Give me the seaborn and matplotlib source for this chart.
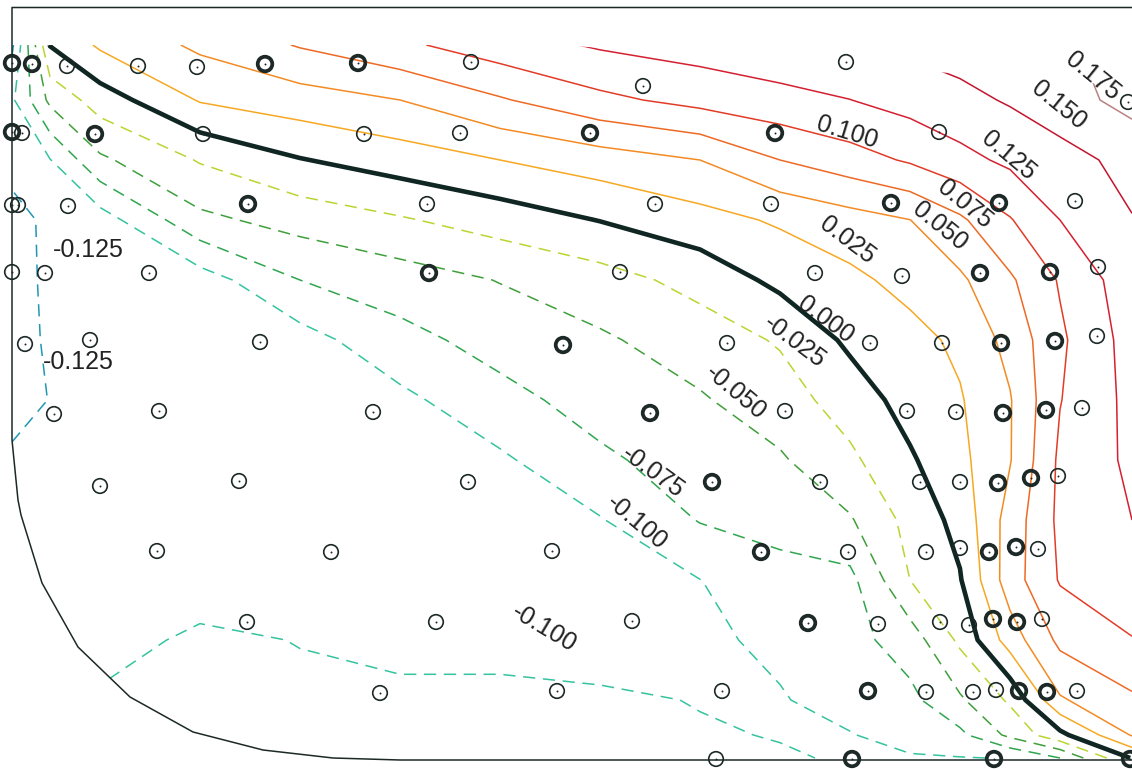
import numpy as np
import pandas as pd
import matplotlib.pyplot as plt
import seaborn as sns
from matplotlib.patches import Polygon

# contour levels of the field
levels = [-0.125, -0.100, -0.075, -0.050, -0.025, 0.000,
          0.025, 0.050, 0.075, 0.100, 0.125, 0.150, 0.175]

# field values on a coarse grid (x to the right, y downwards)
grid_x = [12, 50, 100, 200, 300, 400, 500, 600, 700, 780, 850, 910, 960, 1010, 1060, 1132]
grid_y = [45, 100, 160, 220, 280, 340, 400, 460, 520, 580, 640, 700, 735, 758]

z_y045 = [-0.130, 0.001, 0.029, 0.055, 0.077, 0.095, 0.114, 0.128, 0.136, 0.143, 0.148, 0.155, 0.161, 0.167, 0.173, 0.181]
z_y100 = [-0.104, -0.044, -0.013, 0.027, 0.0385, 0.050, 0.0725, 0.094, 0.108, 0.117, 0.1247, 0.1347, 0.143, 0.1525, 0.165, 0.183]
z_y160 = [-0.120, -0.101, -0.0545, -0.023, -0.0013, 0.0121, 0.025, 0.0375, 0.050, 0.075, 0.0896, 0.103, 0.1176, 0.130, 0.1406, 0.158]
z_y220 = [-0.130, -0.122, -0.112, -0.056, -0.0404, -0.0276, -0.0136, 0.0008, 0.0159, 0.0283, 0.0398, 0.0497, 0.0707, 0.0983, 0.125, 0.149]
z_y280 = [-0.128, -0.1235, -0.119, -0.112, -0.075, -0.062, -0.049, -0.0354, -0.0165, 0.0065, 0.0194, 0.0328, 0.0458, 0.0713, 0.1023, 0.140]
z_y340 = [-0.130, -0.1233, -0.1197, -0.115, -0.110, -0.083, -0.0656, -0.0535, -0.0378, -0.0225, 0.005, 0.017, 0.0299, 0.0578, 0.0958, 0.135]
z_y400 = [-0.132, -0.1245, -0.122, -0.117, -0.111, -0.106, -0.0828, -0.0651, -0.0525, -0.0364, -0.0134, 0.0097, 0.0229, 0.0483, 0.0991, 0.132]
z_y460 = [-0.122, -0.120, -0.1184, -0.1142, -0.1101, -0.107, -0.104, -0.0793, -0.0635, -0.053, -0.0301, -0.0032, 0.0185, 0.0486, 0.1048, 0.130]
z_y520 = [-0.118, -0.117, -0.115, -0.112, -0.109, -0.107, -0.105, -0.1015, -0.0736, -0.0623, -0.0524, -0.0171, 0.0081, 0.0604, 0.1056, 0.125]
z_y580 = [-0.115, -0.114, -0.113, -0.108, -0.109, -0.107, -0.105, -0.103, -0.1003, -0.088, -0.082, -0.025, -0.0019, 0.0635, 0.102, 0.115]
z_y640 = [-0.104, -0.104, -0.106, -0.097, -0.1005, -0.104, -0.104, -0.106, -0.104, -0.0957, -0.0836, -0.0631, -0.020, 0.0368, 0.081, 0.099]
z_y700 = [-0.098, -0.098, -0.098, -0.098, -0.097, -0.097, -0.097, -0.098, -0.1005, -0.1015, -0.0919, -0.0816, -0.0536, -0.021, 0.0472, 0.071]
z_y735 = [-0.097, -0.097, -0.097, -0.097, -0.097, -0.097, -0.097, -0.098, -0.099, -0.1005, -0.101, -0.092, -0.0807, -0.044, -0.007, 0.052]
z_y758 = [-0.096, -0.096, -0.096, -0.096, -0.096, -0.096, -0.096, -0.097, -0.098, -0.099, -0.101, -0.102, -0.101, -0.099, -0.075, 0.002]

# mesh nodes, row by row; bold = node drawn several times
node_x = [12, 32, 67, 138, 197, 265, 358, 471, 643, 846, 1128,
          12, 22, 95, 203, 364, 460, 590, 775, 939,
          12, 18, 68, 248, 427, 655, 771, 891, 999, 1075,
          12, 45, 149, 429, 620, 815, 902, 980, 1050, 1098,
          25, 90, 260, 563, 727, 870, 942, 1001, 1055, 1097,
          54, 159, 373, 650, 785, 907, 956, 1003, 1046, 1082,
          100, 239, 468, 712, 820, 920, 960, 998, 1031, 1058,
          157, 331, 552, 761, 848, 926, 960, 989, 1016, 1038,
          247, 436, 632, 808, 878, 940, 969, 993, 1017, 1042,
          380, 557, 722, 868, 926, 973, 996, 1019, 1047, 1077,
          716, 852, 994, 1130]
node_y = [63, 64, 66, 66, 67, 64, 63, 62, 86, 62, 102,
          132, 133, 134, 134, 134, 133, 133, 133, 132,
          205, 205, 206, 204, 204, 204, 204, 203, 203, 201,
          272, 273, 273, 273, 272, 273, 276, 273, 272, 267,
          344, 340, 342, 345, 343, 343, 343, 343, 341, 336,
          414, 411, 412, 413, 411, 411, 412, 413, 410, 408,
          486, 481, 482, 482, 482, 482, 482, 483, 478, 476,
          551, 552, 551, 552, 552, 552, 548, 552, 547, 549,
          622, 622, 621, 623, 624, 622, 625, 619, 622, 619,
          693, 691, 691, 691, 692, 692, 690, 691, 692, 691,
          759, 759, 759, 759]
node_bold = [1, 1, 0, 0, 0, 1, 1, 0, 0, 0, 0,
             1, 0, 1, 0, 0, 0, 1, 1, 0,
             0, 0, 0, 1, 0, 0, 0, 1, 1, 0,
             0, 0, 0, 1, 0, 0, 0, 1, 1, 0,
             0, 0, 0, 1, 0, 0, 0, 1, 1, 0,
             0, 0, 0, 1, 0, 0, 0, 1, 1, 0,
             0, 0, 0, 1, 0, 0, 0, 1, 1, 0,
             0, 0, 0, 1, 0, 0, 0, 1, 1, 0,
             0, 0, 0, 1, 0, 0, 0, 1, 1, 0,
             0, 0, 0, 1, 0, 0, 0, 1, 1, 0,
             0, 1, 1, 1]

# outline of the part
outline_x = [1132, 12, 12, 18, 21, 42, 78, 130, 193, 263, 333, 400, 1132]
outline_y = [7.5, 7.5, 440, 500, 515, 583, 647, 697, 732, 750, 758, 760, 760]

# region where the field exists
field_x = [12, 560, 1132, 1132, 400, 333, 263, 193, 130, 78, 42, 21, 18, 12]
field_y = [45, 45, 86, 760, 760, 758, 750, 732, 697, 647, 583, 515, 500, 440]

# contour labels: value, centre, angle
label_vals = [0.175, 0.150, 0.125, 0.100, 0.075, 0.050, 0.025, 0.000,
              -0.025, -0.050, -0.075, -0.100, -0.100, -0.125, -0.125]
label_x = [1093, 1059, 1008, 847, 965, 940, 847, 826, 794, 736, 653, 637, 544, 88, 78]
label_y = [76, 105, 156, 132, 204, 226, 240, 320, 342, 392, 472, 522, 628, 250, 362]
label_rot = [-39, -39, -40, -17, -39, -39, -37, -36, -37, -40, -36, -40, -31, 0, 0]

level_colors = ['#1f97b4', '#35c39f', '#2fa64e', '#3f9f3a', '#b9d531', '#102622',
                '#f7a823', '#f38b24', '#ee6a24', '#e23c27', '#d42030', '#c2152d', '#b98282']
ink = '#1d2927'

sns.set_theme(style="white")
plt.rcParams['font.family'] = ['Liberation Sans', 'DejaVu Sans']

fig = plt.figure(figsize=(11.32, 7.69), dpi=100)
ax = fig.add_axes([0, 0, 1, 1])

Z = np.array([z_y045, z_y100, z_y160, z_y220, z_y280, z_y340, z_y400,
              z_y460, z_y520, z_y580, z_y640, z_y700, z_y735, z_y758])
X, Y = np.meshgrid(grid_x, grid_y)

field = Polygon(np.column_stack([field_x, field_y]), closed=True,
                transform=ax.transData, facecolor='none', edgecolor='none')

widths = [3.3 if lv == 0 else 1.1 for lv in levels]
styles = [(0, (8, 5)) if lv < 0 else 'solid' for lv in levels]
cs = ax.contour(X, Y, Z, levels=levels, colors=level_colors,
                linewidths=widths, linestyles=styles, zorder=2)
cs.set_clip_path(field)

# outline
ax.plot(outline_x, outline_y, color=ink, lw=1.1, zorder=3)

# mesh nodes
nodes = pd.DataFrame({'x': node_x, 'y': node_y, 'bold': np.array(node_bold, dtype=bool)})
sns.scatterplot(data=nodes[~nodes.bold], x='x', y='y', marker='o', s=110,
                facecolor='none', edgecolor=ink, linewidth=1.2, ax=ax, zorder=5)
sns.scatterplot(data=nodes[nodes.bold], x='x', y='y', marker='o', s=110,
                facecolor='none', edgecolor=ink, linewidth=2.7, ax=ax, zorder=5)
sns.scatterplot(data=nodes, x='x', y='y', marker='o', s=2, color=ink,
                linewidth=0, ax=ax, zorder=6)

for v, x, y, r in zip(label_vals, label_x, label_y, label_rot):
    ax.text(x, y, f'{v:.3f}', rotation=r, rotation_mode='anchor',
            ha='center', va='center', fontsize=18, color='#222222', zorder=7)

ax.set_xlim(0, 1132)
ax.set_ylim(769, 0)
ax.axis('off')

fig.savefig('out.png', dpi=100)
